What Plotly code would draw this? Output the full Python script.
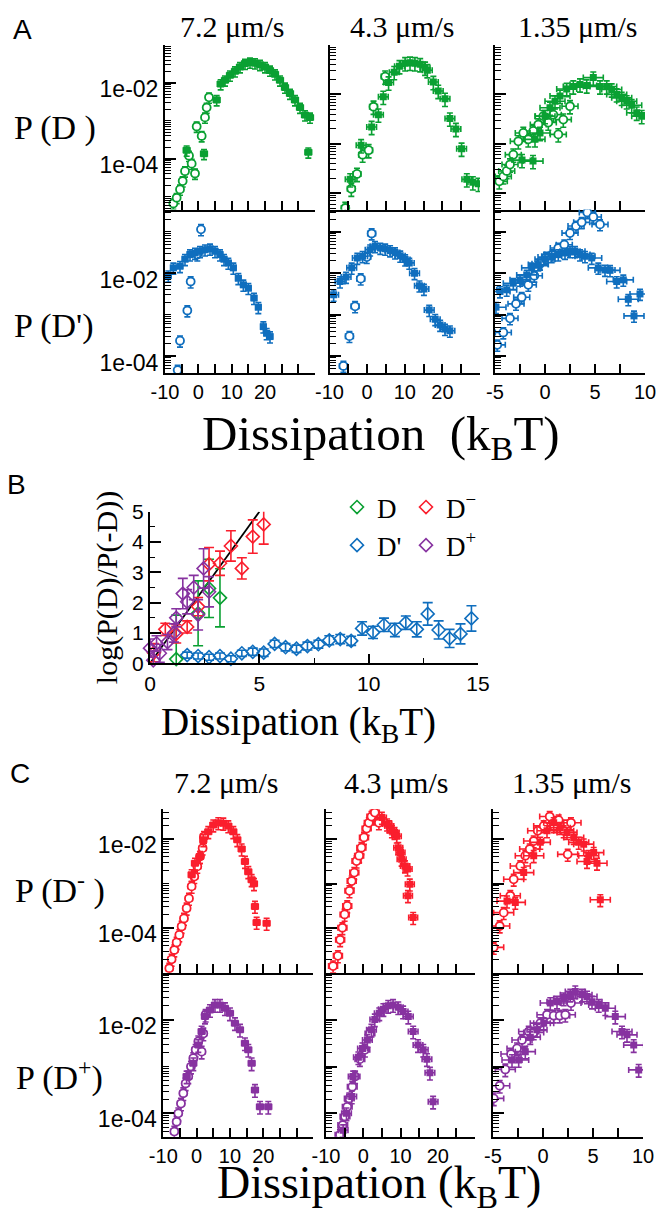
import numpy as np
import plotly.graph_objects as go

W, H = 667, 1216
SANS = "Liberation Sans"
SERIF = "Liberation Serif"
GREEN = "rgb(10,160,50)"
BLUE = "rgb(15,110,190)"
RED = "rgb(250,30,45)"
PURPLE = "rgb(135,50,160)"

# ---------------- Panel A : P(D) (top) and P(D') (bottom); values are log10(P) ----------------
A1_fill_x = [-3.5, 1.7, 5.5, 6.7, 8.0, 9.5, 11.0, 12.5, 14.0, 15.5, 17.0, 18.5, 20.0, 21.5, 23.0, 24.5, 26.0, 27.5, 29.0, 30.5, 32.0, 33.5, 33.0]
A1_fill_lp = [-3.78, -3.87, -2.45, -2.03, -1.93, -1.80, -1.69, -1.58, -1.49, -1.46, -1.48, -1.52, -1.58, -1.67, -1.77, -1.93, -2.12, -2.28, -2.45, -2.65, -2.85, -2.91, -3.83]
A1_open_x = [-7.5, -6.5, -5.5, -4.7, -4.0, -2.8, -2.0, -1.0, -0.5, 1.0, 2.0, 2.5, 3.2]
A1_open_lp = [-5.18, -5.03, -4.81, -4.59, -4.33, -3.92, -4.13, -4.39, -3.15, -3.40, -2.91, -2.65, -2.38]

A2_fill_x = [-4.5, -1.6, 1.2, 3.0, 4.3, 5.7, 7.2, 8.6, 10.1, 11.4, 12.7, 14.1, 15.4, 16.0, 17.6, 18.9, 20.7, 22.0, 23.6, 25.1, 26.5, 28.1, 29.6]
A2_fill_lp = [-3.72, -3.03, -2.66, -2.41, -2.05, -1.76, -1.55, -1.43, -1.37, -1.36, -1.37, -1.39, -1.46, -1.51, -1.75, -1.93, -2.09, -2.49, -2.70, -3.10, -3.72, -3.78, -3.81]
A2_open_x = [-5.8, -4.2, -2.7, -1.2, 0.4, 1.7, 4.8]
A2_open_lp = [-4.30, -3.91, -3.61, -3.22, -3.13, -2.25, -1.64]

A3_fill_x = [-2.3, -1.2, -1.0, -0.5, 0.0, 0.5, 1.0, 1.5, 2.17, 2.83, 3.5, 4.17, 4.83, 5.5, 6.17, 6.67, 7.17, 7.67, 8.17, 8.67, 9.17, 9.67]
A3_fill_lp = [-3.33, -3.35, -2.91, -2.78, -2.44, -2.27, -2.14, -2.03, -1.89, -1.84, -1.80, -1.82, -1.66, -1.84, -1.84, -1.90, -2.00, -2.07, -2.14, -2.22, -2.37, -2.44]
A3_open_x = [-4.57, -4.17, -3.83, -3.5, -3.17, -2.67, -2.17, -1.67, -1.17, -0.67, -0.17, 0.33, 0.83, 1.33, 1.83, 2.5]
A3_open_lp = [-3.76, -3.66, -3.55, -3.42, -3.22, -2.95, -2.78, -2.91, -2.74, -2.61, -2.44, -2.57, -2.41, -2.81, -2.51, -2.24]

A4_fill_x = [-9.0, -7.5, -5.5, -4.0, -2.5, -1.0, 0.5, 2.0, 3.5, 5.0, 6.5, 7.7, 9.0, 10.5, 12.0, 13.5, 15.0, 16.7, 18.0, 19.5, 20.5, 21.5]
A4_fill_lp = [-2.06, -1.87, -1.83, -1.66, -1.55, -1.51, -1.47, -1.43, -1.41, -1.47, -1.55, -1.66, -1.75, -1.87, -2.12, -2.28, -2.36, -2.60, -2.82, -3.29, -3.45, -3.53]
A4_open_x = [-6.2, -5.5, -3.3, -2.3, -0.3, 0.8]
A4_open_lp = [-4.34, -3.63, -2.90, -2.20, -1.55, -0.94]

A5_fill_x = [-8.9, -7.2, -5.6, -4.1, -2.6, -1.2, 0.8, 2.1, 3.5, 4.8, 6.1, 7.4, 8.8, 10.1, 11.2, 12.6, 13.9, 15.1, 16.5, 18.1, 19.4, 20.7, 22.0]
A5_fill_lp = [-2.52, -2.20, -2.09, -1.87, -1.63, -1.59, -1.43, -1.35, -1.39, -1.41, -1.45, -1.50, -1.58, -1.67, -1.75, -2.00, -2.30, -2.38, -2.89, -3.11, -3.25, -3.35, -3.39]
A5_open_x = [-6.3, -4.7, -3.2, -1.7, -0.1, 1.2]
A5_open_lp = [-4.24, -3.52, -2.80, -2.13, -1.61, -1.04]

A6_fill_x = [-4.9, -4.5, -3.83, -3.17, -2.5, -1.83, -1.33, -0.67, 0.0, 0.67, 1.33, 2.0, 2.5, 3.0, 3.5, 4.0, 4.67, 5.33, 6.0, 6.5, 7.17, 7.83, 8.33, 9.5, 8.9]
A6_fill_lp = [-2.82, -2.44, -2.40, -2.24, -2.16, -2.04, -1.87, -1.79, -1.66, -1.59, -1.55, -1.51, -1.47, -1.47, -1.55, -1.59, -1.63, -1.87, -1.92, -1.93, -2.20, -2.16, -2.63, -2.50, -3.03]
A6_open_x = [-4.77, -4.17, -3.5, -2.9, -2.33, -1.67, -1.07, -0.5, 0.1, 0.77, 1.33, 1.93, 2.5, 3.1, 3.67, 4.23, 4.83, 5.5]
A6_open_lp = [-3.73, -3.43, -3.09, -2.74, -2.58, -2.28, -2.06, -1.77, -1.61, -1.55, -1.39, -1.31, -1.03, -0.86, -0.77, -0.53, -0.64, -0.82]

# ---------------- Panel B : log(P(D)/P(-D)) ----------------
B_D_x = [1.2, 2.2, 2.7, 3.2]
B_D_y = [0.14, 1.65, 2.47, 2.16]
B_D_err = [1.45, 1.07, 0.96, 0.96]
B_Dp_x = [1.7, 2.2, 2.7, 3.2, 3.7, 4.2, 4.7, 5.2, 5.7, 6.2, 6.7, 7.2, 7.7, 8.2, 8.7, 9.2, 9.7, 10.2, 10.7, 11.2, 11.7, 12.2, 12.7, 13.2, 13.7, 14.2, 14.7]
B_Dp_y = [0.27, 0.24, 0.20, 0.24, 0.15, 0.33, 0.38, 0.35, 0.64, 0.53, 0.48, 0.57, 0.63, 0.76, 0.80, 0.74, 1.15, 1.02, 1.27, 1.10, 1.34, 1.12, 1.63, 1.10, 0.82, 0.97, 1.48]
B_Dp_err = [0.1, 0.1, 0.1, 0.1, 0.1, 0.1, 0.12, 0.12, 0.12, 0.12, 0.12, 0.13, 0.13, 0.15, 0.15, 0.15, 0.22, 0.2, 0.22, 0.22, 0.22, 0.25, 0.37, 0.3, 0.3, 0.33, 0.42]
B_Dm_x = [0.18, 0.7, 1.2, 1.7, 2.2, 2.7, 3.2, 3.7, 4.2, 4.7, 5.2]
B_Dm_y = [0.35, 1.12, 0.97, 1.20, 1.87, 3.27, 3.30, 3.87, 3.13, 4.18, 4.58]
B_Dm_err = [0.3, 0.2, 0.3, 0.2, 0.3, 0.55, 0.4, 0.5, 0.35, 0.55, 0.65]
B_Dplus_x = [0.0, 0.15, 0.3, 0.45, 0.8, 1.1, 1.2, 1.5, 1.7, 2.0, 2.2, 2.45, 2.7]
B_Dplus_y = [0.5, 0.1, 0.66, 0.33, 0.7, 1.0, 1.5, 2.3, 2.03, 2.5, 1.6, 3.13, 2.36]
B_Dplus_err = [0.3, 0.3, 0.25, 0.3, 0.25, 0.3, 0.3, 0.5, 0.4, 0.4, 0.5, 0.65, 0.5]
B_line_x = [0, 5]
B_line_y = [0, 5]

# ---------------- Panel C : P(D-) (top) and P(D+) (bottom); values are log10(P) ----------------
C1_fill_x = [-1.5, -0.5, 1.0, 2.0, 3.5, 5.0, 6.5, 8.0, 9.5, 11.0, 12.2, 13.5, 14.5, 15.5, 16.5, 17.2, 17.5, 18.0, 21.0]
C1_fill_lp = [-2.80, -2.54, -2.39, -2.01, -1.83, -1.68, -1.63, -1.64, -1.70, -1.83, -2.01, -2.22, -2.50, -2.73, -2.91, -3.00, -3.51, -3.87, -3.89]
C1_open_x = [-8.2, -7.5, -6.7, -6.0, -5.2, -4.5, -3.8, -3.0, -2.3, -1.5, -0.7, 0.2, 1.0, 1.8, 2.2]
C1_open_lp = [-4.90, -4.70, -4.49, -4.32, -4.15, -3.96, -3.78, -3.55, -3.33, -3.06, -2.84, -2.61, -2.39, -2.20, -1.94]

C2_fill_x = [5.0, 6.4, 7.0, 7.7, 8.4, 9.0, 9.4, 10.0, 10.3, 11.2, 11.9, 12.5, 12.0, 13.4]
C2_fill_lp = [-1.51, -1.66, -1.70, -1.81, -1.85, -1.93, -2.19, -2.30, -2.45, -2.60, -2.67, -3.01, -3.27, -3.76]
C2_open_x = [-8.1, -6.8, -6.2, -5.6, -5.0, -4.3, -3.7, -3.1, -2.4, -1.8, -1.1, -0.5, 0.2, 0.9, 1.5, 2.2, 3.1, 4.2]
C2_open_lp = [-4.85, -4.62, -4.26, -3.99, -3.69, -3.50, -3.16, -2.94, -2.75, -2.49, -2.37, -2.19, -1.96, -1.76, -1.63, -1.49, -1.40, -1.63]

C3_fill_x = [-3.6, -2.77, -1.93, -0.93, -0.27, 0.4, 1.07, 1.73, 2.4, 3.07, 3.57, 4.07, 4.57, 5.07, 5.4, 4.4, 5.73]
C3_fill_lp = [-3.39, -3.42, -2.75, -2.37, -2.07, -1.81, -1.63, -1.74, -1.85, -1.96, -2.07, -2.11, -2.37, -2.30, -2.54, -2.50, -3.36]
C3_open_x = [-4.93, -4.33, -3.93, -3.27, -2.93, -2.27, -1.77, -1.33, -0.93, -0.53, 0.07, 0.67, 1.07, 1.57, 2.07, 2.47, 2.8]
C3_open_lp = [-4.43, -3.95, -3.65, -3.27, -2.90, -2.60, -2.37, -2.22, -2.04, -1.81, -1.70, -1.49, -1.70, -1.57, -1.81, -2.34, -1.63]

C4_fill_x = [-3.0, -1.0, 0.5, 1.5, 2.5, 4.0, 5.5, 7.0, 8.5, 10.0, 11.5, 13.0, 14.5, 15.5, 16.5, 17.5, 19.0, 21.5]
C4_fill_lp = [-3.21, -2.93, -2.54, -2.25, -1.93, -1.79, -1.68, -1.68, -1.75, -1.86, -2.07, -2.21, -2.50, -2.64, -2.93, -3.50, -3.86, -3.86]
C4_open_x = [-6.7, -6.0, -5.5, -4.7, -4.0, -3.3, -2.5, -1.7, -1.0, -0.3, 0.5, 1.5, 2.0, 2.7]
C4_open_lp = [-4.39, -4.18, -4.00, -3.79, -3.57, -3.36, -3.21, -3.00, -2.82, -2.64, -2.46, -2.68, -2.29, -1.89]

C5_fill_x = [-5.4, -4.5, -3.1, -2.7, -1.3, -0.2, 1.1, 2.2, 3.1, 4.3, 5.4, 6.7, 8.0, 9.4, 10.7, 12.1, 13.4, 14.7, 16.1, 17.1, 17.9, 18.75]
C5_fill_lp = [-4.36, -4.00, -3.64, -3.21, -2.80, -2.61, -2.43, -2.21, -1.99, -1.86, -1.77, -1.70, -1.68, -1.73, -1.82, -1.93, -2.25, -2.54, -2.64, -2.84, -3.13, -3.75]
C5_open_x = [-6.25, -5.5, -4.9, -4.3, -3.75, -2.95, -2.2, -0.9, 0.45, 1.8]
C5_open_lp = [-4.46, -4.25, -4.07, -3.86, -3.68, -3.43, -3.21, -2.84, -2.64, -2.29]

C6_fill_x = [-3.1, -2.43, -1.77, -1.27, -0.6, 0.07, 0.73, 1.4, 2.07, 2.73, 3.23, 3.9, 4.4, 4.9, 5.57, 6.23, 7.23, 7.9, 8.4, 9.07, 9.57]
C6_fill_lp = [-2.86, -2.86, -2.68, -2.37, -2.21, -2.07, -1.64, -1.61, -1.54, -1.46, -1.39, -1.46, -1.50, -1.61, -1.68, -1.75, -1.93, -2.25, -2.32, -2.54, -3.07]
C6_open_x = [-4.93, -4.33, -3.77, -3.2, -2.6, -2.1, -1.43, -0.93, -0.27, 0.4, 1.07, 1.67, 2.23, 2.8]
C6_open_lp = [-3.68, -3.41, -3.06, -2.73, -2.61, -2.43, -2.25, -2.27, -2.07, -1.89, -1.91, -1.91, -1.89, -1.64]

# x error half-widths per subplot (kBT)
XERR = {"A1": 1.0, "A2": 1.3, "A3": 1.0, "A4": 0.8, "A5": 1.3, "A6": 1.0,
        "C1": 1.0, "C2": 1.2, "C3": 1.0, "C4": 1.0, "C5": 1.3, "C6": 1.0}

# tick definitions: labelled ticks and unlabelled ticks
X_LAB_WIDE = [-10, 0, 10, 20]
X_MIN_WIDE = [-5, 5, 15, 25, 30, 35]
X_MIN_MID = [-5, 5, 15, 25, 30]
X_LAB_NARROW = [-5, 0, 5, 10]
X_MIN_NARROW = [-2.5, 2.5, 7.5]
Y_LAB = [1e-4, 1e-2]
Y_LAB_TEXT = ["1e-04", "1e-02"]

fig = go.Figure()
n_axes = [0]


def log_ticks(lo, hi, majors):
    vals = []
    for d in range(int(np.floor(lo)) - 1, int(np.ceil(hi)) + 1):
        for k in range(1, 10):
            v = k * 10.0 ** d
            if any(abs(v - m) / m < 1e-9 for m in majors):
                continue
            vals.append(v)
    return vals


def tickstyle(length, width):
    return dict(ticks="inside", ticklen=length, tickwidth=width, tickcolor="black")


def make_axes(xdom, ydom, xr, xlab, xminor, show_xl, yr, ylog, ymajor, show_yl,
              yminor=None, xfont=20, yfont=23, ylshift=6, ytext=None):
    n_axes[0] += 1
    n = n_axes[0]
    sx = "" if n == 1 else str(n)
    if show_xl:
        xmaj, xmin = xlab, xminor
    else:
        xmaj, xmin = [], sorted(xlab + xminor)
    xa = dict(domain=[xdom[0] / W, xdom[1] / W], range=xr, anchor="y" + sx,
              tickmode="array", tickvals=xmaj, ticktext=[str(v) for v in xmaj],
              showticklabels=show_xl, automargin=False,
              showline=True, linecolor="black", linewidth=2, showgrid=False,
              zeroline=False, tickfont=dict(family=SANS, size=xfont, color="black"),
              minor=dict(tickmode="array", tickvals=xmin, **tickstyle(9, 1.5)),
              **tickstyle(9, 1.5))
    ya = dict(domain=[1 - ydom[1] / H, 1 - ydom[0] / H], range=yr, anchor="x" + sx,
              tickmode="array", tickvals=ymajor, automargin=False,
              showline=True, linecolor="black", linewidth=2, showgrid=False,
              zeroline=False, showticklabels=show_yl,
              tickfont=dict(family=SANS, size=yfont, color="black"),
              **tickstyle(11, 1.5))
    if ylog:
        ya["type"] = "log"
        ya["ticklabelshift"] = ylshift
        if show_yl:
            ya["ticktext"] = ytext
        ya["minor"] = dict(tickmode="array", tickvals=log_ticks(yr[0], yr[1], ymajor),
                           **tickstyle(6, 1.2))
    else:
        ya["ticktext"] = [str(v) for v in ymajor]
        if yminor is not None:
            ya["minor"] = dict(tickmode="array", tickvals=yminor, **tickstyle(5, 1.2))
    fig.update_layout(**{"xaxis" + sx: xa, "yaxis" + sx: ya})
    return "x" + sx, "y" + sx


def add_series(ax, x, lp, color, kind, xerr):
    y = [10.0 ** v for v in lp]
    if kind == "fill":
        marker = dict(symbol="square", size=7, color=color, line=dict(width=0))
    else:
        marker = dict(symbol="circle", size=8, color="white", line=dict(color=color, width=1.8))
    fig.add_trace(go.Scatter(
        x=x, y=y, mode="markers", marker=marker,
        error_x=dict(type="constant", value=xerr, color=color, thickness=1.6, width=3),
        error_y=dict(type="percent", value=30, color=color, thickness=1.6, width=3),
        xaxis=ax[0], yaxis=ax[1], showlegend=False, hoverinfo="skip"))


# ---------- Panel A geometry ----------
A_cols = [(165, 315), (329.5, 480), (495, 645)]
A_rows = [(45, 209.5), (209.5, 373)]
A_xr = [[-10, 35], [-10, 30], [-5, 10]]
A_xlab = [X_LAB_WIDE, X_LAB_WIDE, X_LAB_NARROW]
A_xmin = [X_MIN_WIDE, X_MIN_MID, X_MIN_NARROW]
A_yr_top = [[-5.34, -1.0], [-4.33, -1.0], [-4.33, -1.0]]
A_yr_bot = [-4.41, -0.46]

A_top = [(A1_fill_x, A1_fill_lp, A1_open_x, A1_open_lp, "A1"),
         (A2_fill_x, A2_fill_lp, A2_open_x, A2_open_lp, "A2"),
         (A3_fill_x, A3_fill_lp, A3_open_x, A3_open_lp, "A3")]
A_bot = [(A4_fill_x, A4_fill_lp, A4_open_x, A4_open_lp, "A4"),
         (A5_fill_x, A5_fill_lp, A5_open_x, A5_open_lp, "A5"),
         (A6_fill_x, A6_fill_lp, A6_open_x, A6_open_lp, "A6")]

for c in range(3):
    maj = Y_LAB if c == 0 else [1e-5, 1e-4, 1e-3, 1e-2, 1e-1]
    ax = make_axes(A_cols[c], A_rows[0], A_xr[c], A_xlab[c], A_xmin[c], False,
                   A_yr_top[c], True, maj, c == 0, ytext=Y_LAB_TEXT)
    fx, fl, ox, ol, key = A_top[c]
    add_series(ax, ox, ol, GREEN, "open", XERR[key] * 0.8)
    add_series(ax, fx, fl, GREEN, "fill", XERR[key])
for c in range(3):
    maj = Y_LAB if c == 0 else [1e-4, 1e-3, 1e-2, 1e-1]
    ax = make_axes(A_cols[c], A_rows[1], A_xr[c], A_xlab[c], A_xmin[c], True,
                   A_yr_bot, True, maj, c == 0, ylshift=7, ytext=Y_LAB_TEXT)
    fx, fl, ox, ol, key = A_bot[c]
    add_series(ax, ox, ol, BLUE, "open", XERR[key] * 0.8)
    add_series(ax, fx, fl, BLUE, "fill", XERR[key])

# ---------- Panel B ----------
axB = make_axes((150, 478), (511.7, 663.3), [0, 15], [0, 5, 10, 15], [2.5, 7.5, 12.5], True,
                [0, 5], False, [0, 1, 2, 3, 4, 5], True, yminor=[0.5, 1.5, 2.5, 3.5, 4.5],
                xfont=21, yfont=21)
fig.update_layout(**{
    axB[0].replace("x", "xaxis"): dict(minor=dict(ticklen=5, tickwidth=1.2)),
    axB[1].replace("y", "yaxis"): dict(title=dict(text="log(P(D)/P(-D))",
                                                 font=dict(family=SERIF, size=30, color="black"),
                                                 standoff=6)),
})

fig.add_trace(go.Scatter(x=B_line_x, y=B_line_y, mode="lines", line=dict(color="black", width=1.8),
                         xaxis=axB[0], yaxis=axB[1], showlegend=False, hoverinfo="skip"))


def add_b(x, y, err, color, name, legend):
    fig.add_trace(go.Scatter(
        x=x, y=y, mode="markers", name=name, legend=legend,
        marker=dict(symbol="diamond-open", size=10, color=color, line=dict(width=1.6, color=color)),
        error_y=dict(type="data", array=err, color=color, thickness=1.6, width=5),
        xaxis=axB[0], yaxis=axB[1], cliponaxis=False, hoverinfo="skip"))


add_b(B_Dp_x, B_Dp_y, B_Dp_err, BLUE, "D'", "legend")
add_b(B_D_x, B_D_y, B_D_err, GREEN, "D", "legend")
add_b(B_Dm_x, B_Dm_y, B_Dm_err, RED, "D<sup>\u2212</sup>", "legend2")
add_b(B_Dplus_x, B_Dplus_y, B_Dplus_err, PURPLE, "D<sup>+</sup>", "legend2")

# ---------- Panel C ----------
C_cols = [(163.3, 313.3), (326, 475), (493, 643)]
C_rows = [(809, 972.7), (972.7, 1136.7)]
C_yr_top = [-5.0, -1.32]
C_yr_bot = [-4.5, -0.99]
C_top = [(C1_fill_x, C1_fill_lp, C1_open_x, C1_open_lp, "C1"),
         (C2_fill_x, C2_fill_lp, C2_open_x, C2_open_lp, "C2"),
         (C3_fill_x, C3_fill_lp, C3_open_x, C3_open_lp, "C3")]
C_bot = [(C4_fill_x, C4_fill_lp, C4_open_x, C4_open_lp, "C4"),
         (C5_fill_x, C5_fill_lp, C5_open_x, C5_open_lp, "C5"),
         (C6_fill_x, C6_fill_lp, C6_open_x, C6_open_lp, "C6")]
for r, (rows_data, yr, color) in enumerate([(C_top, C_yr_top, RED), (C_bot, C_yr_bot, PURPLE)]):
    for c in range(3):
        maj = Y_LAB if c == 0 else [1e-5, 1e-4, 1e-3, 1e-2, 1e-1]
        ax = make_axes(C_cols[c], C_rows[r], A_xr[c], A_xlab[c], A_xmin[c], r == 1,
                       yr, True, maj, c == 0, ytext=Y_LAB_TEXT)
        fx, fl, ox, ol, key = rows_data[c]
        add_series(ax, ox, ol, color, "open", XERR[key])
        add_series(ax, fx, fl, color, "fill", XERR[key])

# ---------- text ----------
annots = []


def txt(text, x, y, family, size, xanchor="center", yanchor="middle"):
    annots.append(dict(text=text, x=x / W, y=1 - y / H, xref="paper", yref="paper",
                       showarrow=False, xanchor=xanchor, yanchor=yanchor,
                       font=dict(family=family, size=size, color="black")))


txt("A", 22, 29, SANS, 28)
txt("B", 16, 484, SANS, 28)
txt("C", 20, 773, SANS, 28)
for label, cx in [("7.2 \u03bcm/s", 232), ("4.3 \u03bcm/s", 402), ("1.35 \u03bcm/s", 577)]:
    txt(label, cx, 27, SERIF, 30)
for label, cx in [("7.2 \u03bcm/s", 226), ("4.3 \u03bcm/s", 396), ("1.35 \u03bcm/s", 571)]:
    txt(label, cx, 782, SERIF, 30)
txt("P (D )", 55, 128, SERIF, 34)
txt("P (D')", 54, 326, SERIF, 34)
txt("P (D<sup>-</sup> )", 60, 888, SERIF, 34)
txt("P (D<sup>+</sup>)", 59, 1075, SERIF, 34)
txt("Dissipation\u00a0 (k<sub>B</sub>T)", 381, 436, SERIF, 49)
txt("Dissipation (k<sub>B</sub>T)", 298, 724, SERIF, 39)
txt("Dissipation (k<sub>B</sub>T)", 379, 1217, SERIF, 46, yanchor="bottom")

fig.update_layout(
    width=W, height=H, margin=dict(l=0, r=0, t=0, b=0, autoexpand=False),
    paper_bgcolor="white", plot_bgcolor="white",
    annotations=annots, showlegend=True,
    legend=dict(x=337 / W, y=1 - 483 / H, xanchor="left", yanchor="top",
                bgcolor="rgba(0,0,0,0)", traceorder="reversed",
                font=dict(family=SERIF, size=27, color="black"), itemwidth=30),
    legend2=dict(x=406 / W, y=1 - 483 / H, xanchor="left", yanchor="top",
                 bgcolor="rgba(0,0,0,0)",
                 font=dict(family=SERIF, size=27, color="black"), itemwidth=30),
)

fig.write_html("out.html", config={"displayModeBar": False},
               post_script="document.body.style.margin='0px';document.body.style.overflow='hidden';")
